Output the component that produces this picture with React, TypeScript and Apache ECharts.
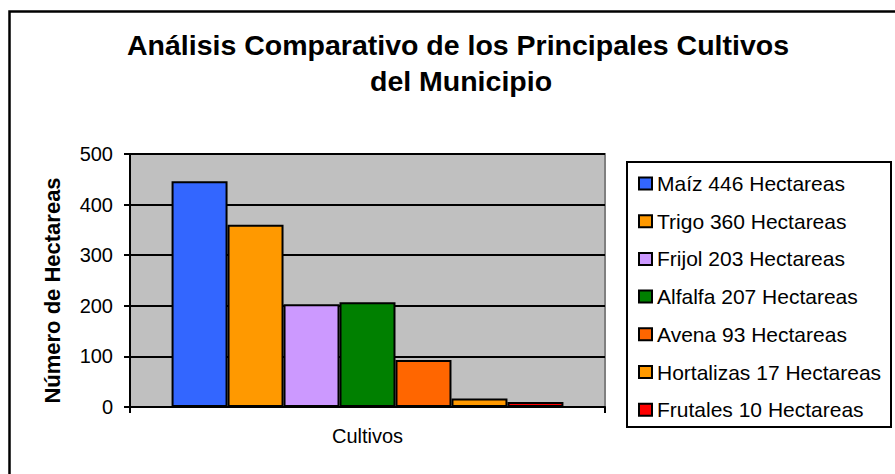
import React, { useEffect, useRef } from "react";
import * as echarts from "echarts";

const categories = ["Cultivos"];
const seriesNames = [
  "Maíz 446 Hectareas",
  "Trigo 360 Hectareas",
  "Frijol 203 Hectareas",
  "Alfalfa 207 Hectareas",
  "Avena 93 Hectareas",
  "Hortalizas 17 Hectareas",
  "Frutales 10 Hectareas",
];
const seriesValues = [446, 360, 203, 207, 93, 17, 10];
const seriesColors = ["#3366FF", "#FF9900", "#CC99FF", "#008000", "#FF6600", "#FF9900", "#FF0000"];
const yTicks = [0, 100, 200, 300, 400, 500];
const titleLines = ["Análisis Comparativo de los Principales Cultivos", "del Municipio"];
const yAxisTitle = "Número de Hectareas";

const FONT = "'Liberation Sans', Arial, Helvetica, sans-serif";

export default function App() {
  const ref = useRef<HTMLDivElement>(null);
  useEffect(() => {
    if (!ref.current) return;
    const chart = echarts.init(ref.current, undefined, { renderer: "svg" });
    const option = {
      animation: false,
      backgroundColor: "#ffffff",
      textStyle: { fontFamily: FONT, color: "#000" },
      graphic: [
        {
          type: "rect",
          z: -10,
          shape: { x: 9.5, y: 11.5, width: 900, height: 480 },
          style: { fill: "none", stroke: "#000", lineWidth: 2.5 },
          silent: true,
        },
        {
          type: "rect",
          shape: { x: 627, y: 162, width: 264, height: 265 },
          style: { fill: "none", stroke: "#000", lineWidth: 2 },
          silent: true,
        },
        {
          type: "text",
          x: 458,
          y: 45,
          style: {
            text: titleLines[0],
            fontSize: 28.5,
            fontWeight: "bold",
            fontFamily: FONT,
            fill: "#000",
            textAlign: "center",
            textVerticalAlign: "middle",
          },
        },
        {
          type: "text",
          x: 461,
          y: 81,
          style: {
            text: titleLines[1],
            fontSize: 28.5,
            fontWeight: "bold",
            fontFamily: FONT,
            fill: "#000",
            textAlign: "center",
            textVerticalAlign: "middle",
          },
        },
      ],
      legend: {
        orient: "vertical",
        left: 627,
        top: 162,
        padding: [11, 8, 8, 11],
        itemWidth: 13,
        itemHeight: 12,
        itemGap: 16.7,
        icon: "rect",
        textStyle: { fontSize: 21, fontFamily: FONT, color: "#000", lineHeight: 21 },
        data: seriesNames,
      },
      grid: {
        left: 130,
        right: 290,
        top: 154,
        bottom: 67,
        show: true,
        backgroundColor: "#C0C0C0",
        borderColor: "#808080",
        borderWidth: 2,
      },
      xAxis: {
        type: "category",
        data: categories,
        axisLine: { show: true, lineStyle: { color: "#000", width: 2 } },
        axisTick: { show: true, length: 6, lineStyle: { color: "#000", width: 2 } },
        axisLabel: { fontSize: 20, color: "#000", margin: 19, fontFamily: FONT },
        splitLine: { show: false },
      },
      yAxis: {
        type: "value",
        min: yTicks[0],
        max: yTicks[yTicks.length - 1],
        interval: yTicks[1] - yTicks[0],
        name: yAxisTitle,
        nameLocation: "middle",
        nameRotate: 90,
        nameGap: 67,
        nameTextStyle: {
          fontSize: 22,
          fontWeight: "bold",
          color: "#000",
          fontFamily: FONT,
          padding: [0, 20, 0, 0],
        },
        axisLine: { show: true, lineStyle: { color: "#000", width: 2 } },
        axisTick: { show: true, length: 6, lineStyle: { color: "#000", width: 2 } },
        axisLabel: { fontSize: 20, color: "#000", margin: 17, fontFamily: FONT },
        splitLine: { show: true, lineStyle: { color: "#000", width: 2 } },
      },
      series: seriesNames.map((name, i) => ({
        name,
        type: "bar",
        data: [seriesValues[i]],
        barGap: "0%",
        barCategoryGap: "17.5%",
        itemStyle: { color: seriesColors[i], borderColor: "#000", borderWidth: 2 },
      })),
    };
    chart.setOption(option as any);
    return () => chart.dispose();
  }, []);
  return (
    <div
      ref={ref}
      style={{ position: "absolute", left: 0, top: 0, width: 895, height: 474 }}
    />
  );
}
